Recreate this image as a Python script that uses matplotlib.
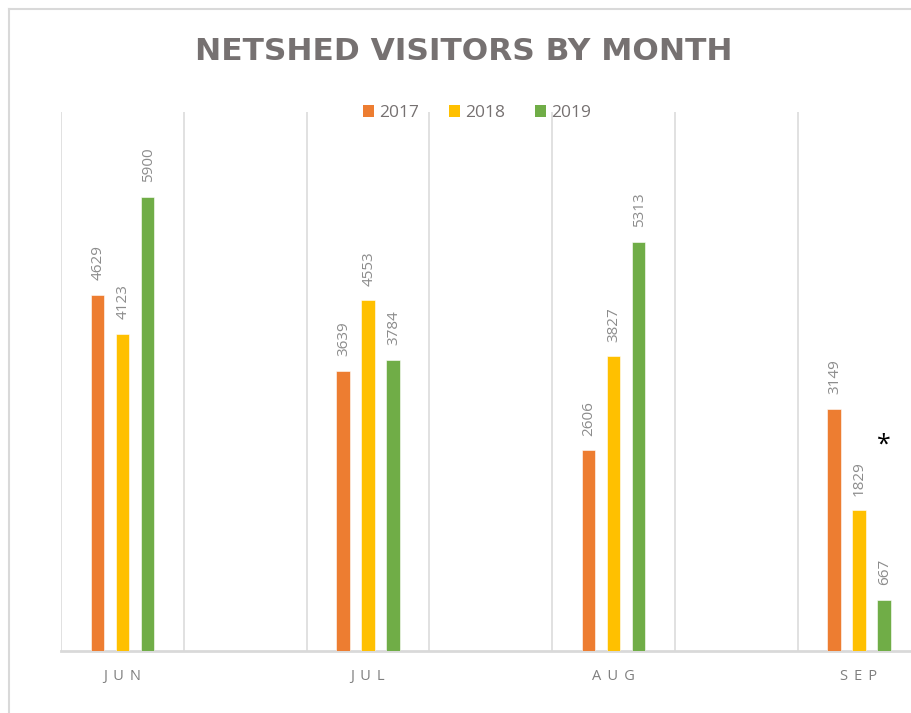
import matplotlib
matplotlib.use("Agg")
import matplotlib.pyplot as plt
from matplotlib.lines import Line2D
from matplotlib.patches import Patch
import numpy as np

months = ["JUN", "JUL", "AUG", "SEP"]
years = ["2017", "2018", "2019"]
v2017 = [4629, 3639, 2606, 3149]
v2018 = [4123, 4553, 3827, 1829]
v2019 = [5900, 3784, 5313, 667]
colors = ["#ED7D31", "#FFC000", "#70AD47"]

W, H = 911, 713
fig = plt.figure(figsize=(W / 100, H / 100), dpi=100)
plt.rcParams['font.family'] = ['Open Sans', 'DejaVu Sans']

def fx(px):
    return px / W

def fy(py):
    return 1 - py / H

ax = fig.add_axes([fx(61), fy(651), fx(911) - fx(61), fy(112) - fy(651)])

x = np.arange(len(months))
bw = 0.055
off = 0.102
series = [v2017, v2018, v2019]
for i, (vals, c) in enumerate(zip(series, colors)):
    xs = x + (i - 1) * off
    ax.bar(xs, vals, width=bw, color=c, edgecolor="white", linewidth=0.4, zorder=3)
    for xi, v in zip(xs, vals):
        ax.annotate(str(v), (xi, v), xytext=(0.5, 10.5), textcoords="offset points",
                    rotation=90, ha="center", va="bottom", fontsize=11,
                    color="#8c8c8c")

ax.set_xlim(-0.2505, 3.212)
ax.set_ylim(0, 7000)

for gx in np.arange(-0.25, 3.0, 0.5):
    ax.axvline(gx, color="#dedede", lw=1.3, zorder=1)

for s in ["top", "right", "left"]:
    ax.spines[s].set_visible(False)
ax.spines["bottom"].set_color("#d9d9d9")
ax.spines["bottom"].set_linewidth(2)
ax.set_yticks([])
ax.set_xticks(x)
ax.set_xticklabels([" \u2009".join(m) for m in months], fontsize=10.5, color="#7f7f7f")
ax.tick_params(axis="x", length=0, pad=13)

# asterisk note on SEP
ax.text(3 + off, 2680, "*", ha="center", va="center", fontsize=18, color="black")

fig.text(fx(464), fy(51), "NETSHED VISITORS BY MONTH", ha="center", va="center",
         fontsize=22.5, fontweight="bold", color="#767171",
         family=["DejaVu Sans"])

handles = [Patch(facecolor=c, edgecolor="none") for c in colors]
fig.legend(handles, years, loc="center", bbox_to_anchor=(fx(477), fy(113)),
           ncol=3, frameon=False, fontsize=12.5, handlelength=0.65,
           handleheight=0.65, handletextpad=0.3, columnspacing=1.7,
           labelcolor="#767171")

# chart border
fig.add_artist(Line2D([fx(9), fx(9)], [0, fy(9)], color="#d9d9d9", lw=1.5))
fig.add_artist(Line2D([fx(9), 1], [fy(9), fy(9)], color="#d9d9d9", lw=1.5))

fig.savefig("out.png", dpi=100)
